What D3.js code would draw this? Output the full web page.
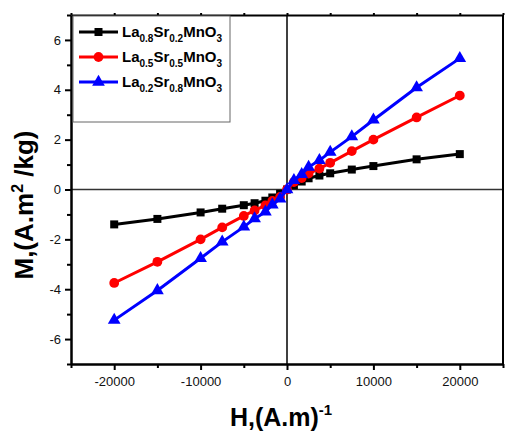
<!DOCTYPE html>
<html>
<head>
<meta charset="utf-8">
<script src="https://cdn.jsdelivr.net/npm/d3@7"></script>
<style>
  body { margin: 0; background: #fff; }
  svg { display: block; font-family: Arial, "Liberation Sans", sans-serif; }
</style>
</head>
<body>
<div id="chart"></div>
<script>
// field values (A/m)
const fieldH = [-20000, -15000, -10000, -7500, -5000, -3750, -2500, -1700, -800, 0,
                800, 1700, 2500, 3750, 5000, 7500, 10000, 15000, 20000];

// magnetisation (A.m2/kg) per sample
const mSr02 = [-1.40, -1.18, -0.92, -0.77, -0.63, -0.55, -0.45, -0.32, -0.17, 0,
               0.17, 0.32, 0.45, 0.56, 0.65, 0.80, 0.94, 1.21, 1.42];
const mSr05 = [-3.75, -2.90, -2.00, -1.52, -1.06, -0.84, -0.64, -0.46, -0.30, 0,
               0.30, 0.46, 0.64, 0.84, 1.07, 1.54, 2.00, 2.89, 3.77];
const mSr08 = [-5.24, -4.05, -2.76, -2.10, -1.50, -1.17, -0.90, -0.61, -0.37, 0,
               0.37, 0.61, 0.90, 1.17, 1.50, 2.12, 2.79, 4.09, 5.26];

const series = [
  { la: "0.8", sr: "0.2", values: mSr02, color: "#000000", shape: d3.symbolSquare, size: 64 },
  { la: "0.5", sr: "0.5", values: mSr05, color: "#ff0000", shape: d3.symbolCircle, size: 75 },
  { la: "0.2", sr: "0.8", values: mSr08, color: "#0000ff", shape: d3.symbolTriangle, size: 70 }
];

const xMajor = [-20000, -10000, 0, 10000, 20000];
const xMinor = [-25000, -15000, -5000, 5000, 15000, 25000];
const yMajor = [-6, -4, -2, 0, 2, 4, 6];
const yMinor = [-7, -5, -3, -1, 1, 3, 5, 7];

const width = 505, height = 432;
const plot = { left: 71, right: 503, top: 15, bottom: 364 };

const svg = d3.select("#chart").append("svg")
    .attr("width", width)
    .attr("height", height);

const x = d3.scaleLinear().domain([-25000, 25000]).range([plot.left, plot.right]);
const y = d3.scaleLinear().domain([-7, 7]).range([plot.bottom, plot.top]);

// plain hyphen for negatives, like the original
const fmt = d => String(d);

// zero lines
svg.append("line")
    .attr("x1", plot.left).attr("x2", plot.right)
    .attr("y1", y(0)).attr("y2", y(0))
    .attr("stroke", "#333").attr("stroke-width", 1.5);
svg.append("line")
    .attr("x1", x(0)).attr("x2", x(0))
    .attr("y1", plot.top).attr("y2", plot.bottom)
    .attr("stroke", "#000").attr("stroke-width", 1.5);

// axes
function styleAxis(g) {
    g.selectAll("path.domain").attr("stroke-width", 2);
    g.selectAll(".tick line").attr("stroke-width", 2);
    g.selectAll("text").attr("fill", "#111").style("font-size", "13px");
}

svg.append("g")
    .attr("transform", `translate(0,${plot.bottom})`)
    .call(d3.axisBottom(x).tickValues(xMajor).tickSize(6).tickSizeOuter(0).tickPadding(7).tickFormat(fmt))
    .call(styleAxis);
svg.append("g")
    .attr("transform", `translate(0,${plot.bottom})`)
    .call(d3.axisBottom(x).tickValues(xMinor).tickSize(4).tickSizeOuter(0).tickFormat(""))
    .call(styleAxis);

svg.append("g")
    .attr("transform", `translate(${plot.left},0)`)
    .call(d3.axisLeft(y).tickValues(yMajor).tickSize(6).tickSizeOuter(0).tickPadding(4).tickFormat(fmt))
    .call(styleAxis);
svg.append("g")
    .attr("transform", `translate(${plot.left},0)`)
    .call(d3.axisLeft(y).tickValues(yMinor).tickSize(4).tickSizeOuter(0).tickFormat(""))
    .call(styleAxis);

// top and right frame
svg.append("g")
    .attr("transform", `translate(0,${plot.top})`)
    .call(d3.axisTop(x).tickValues(xMajor.concat(xMinor)).tickSize(2).tickSizeOuter(0).tickFormat(""))
    .call(styleAxis);
svg.append("line")
    .attr("x1", plot.right).attr("x2", plot.right)
    .attr("y1", plot.top).attr("y2", plot.bottom)
    .attr("stroke", "#000").attr("stroke-width", 2);

// series
const line = d3.line().x((d, i) => x(fieldH[i])).y(d => y(d));

series.forEach(s => {
    svg.append("path")
        .datum(s.values)
        .attr("fill", "none")
        .attr("stroke", s.color)
        .attr("stroke-width", 3)
        .attr("d", line);
    svg.append("g").selectAll("path")
        .data(s.values)
        .join("path")
        .attr("d", d3.symbol().type(s.shape).size(s.size))
        .attr("transform", (d, i) => `translate(${x(fieldH[i])},${y(d)})`)
        .attr("fill", s.color);
});

// legend
const legend = svg.append("g").attr("transform", "translate(73,16)");
legend.append("rect")
    .attr("width", 157).attr("height", 106)
    .attr("fill", "#fff").attr("stroke", "#666").attr("stroke-width", 1);

series.forEach((s, i) => {
    const row = legend.append("g").attr("transform", `translate(0,${16 + i * 25})`);
    row.append("line")
        .attr("x1", 6).attr("x2", 45)
        .attr("stroke", s.color).attr("stroke-width", 3);
    row.append("path")
        .attr("d", d3.symbol().type(s.shape).size(s.size))
        .attr("transform", "translate(25.5,0)")
        .attr("fill", s.color);
    const t = row.append("text")
        .attr("x", 49).attr("y", 5)
        .style("font-size", "15px").style("font-weight", "bold")
        .attr("fill", "#000");
    t.append("tspan").text("La");
    t.append("tspan").attr("dy", 5).style("font-size", "10px").text(s.la);
    t.append("tspan").attr("dy", -5).text("Sr");
    t.append("tspan").attr("dy", 5).style("font-size", "10px").text(s.sr);
    t.append("tspan").attr("dy", -5).text("MnO");
    t.append("tspan").attr("dy", 5).style("font-size", "10px").text("3");
});

// axis titles
const xt = svg.append("text")
    .attr("x", 281).attr("y", 426)
    .attr("text-anchor", "middle")
    .style("font-size", "25px").style("font-weight", "bold")
    .attr("fill", "#000");
xt.append("tspan").text("H,(A.m)");
xt.append("tspan").attr("dy", -11).style("font-size", "15px").text("-1");

const yt = svg.append("text")
    .attr("transform", "translate(33,205) rotate(-90)")
    .attr("text-anchor", "middle")
    .style("font-size", "26px").style("font-weight", "bold")
    .attr("fill", "#000");
yt.append("tspan").text("M,(A.m");
yt.append("tspan").attr("dy", -10).style("font-size", "16px").text("2");
yt.append("tspan").attr("dy", 10).text(" /kg)");
</script>
</body>
</html>
